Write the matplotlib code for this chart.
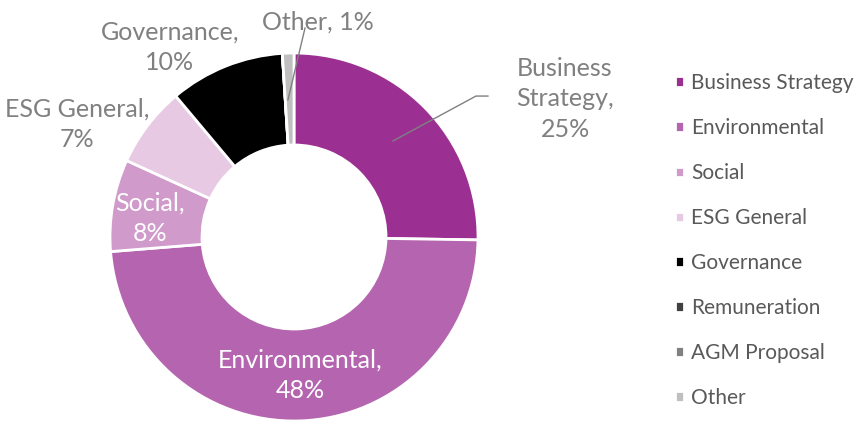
import numpy as np
import matplotlib
matplotlib.use('Agg')
from matplotlib import pyplot as plt

categories = ['Business Strategy', 'Environmental', 'Social', 'ESG General',
              'Governance', 'Remuneration', 'AGM Proposal', 'Other']
shares = [25, 48, 8, 7, 10, 0, 0, 1]
colors = ['#9B3092', '#B565AF', '#D09ACB', '#E7C9E3',
          '#000000', '#404040', '#808080', '#BFBFBF']

plt.rcParams['font.family'] = ['Lato', 'DejaVu Sans']

fig = plt.figure(figsize=(8.64, 4.25), dpi=100)
# square axes: centre at (294, 237) px, radius 184 px
ax = fig.add_axes([110/864, 4/425, 368/864, 368/425])
wedges, _ = ax.pie(shares, colors=colors, startangle=90, counterclock=False,
                   radius=1, wedgeprops=dict(width=0.5, edgecolor='white', linewidth=2))
ax.set_xlim(-1, 1)
ax.set_ylim(-1, 1)
ax.axis('off')

# data labels (Excel style)
lab_pos = {'Business Strategy': (1.473, 0.75), 'Environmental': (0.033, -0.75),
           'Social': (-0.783, 0.103), 'ESG General': (-1.179, 0.614),
           'Governance': (-0.674, 1.033), 'Other': (0.13, 1.168)}
inside = ['Environmental', 'Social']
for name, val in zip(categories, shares):
    if name not in lab_pos:
        continue
    pct = round(val / sum(shares) * 100)
    if name == 'Business Strategy':
        txt = 'Business\nStrategy,\n%d%%' % pct
    elif name == 'Other':
        txt = 'Other, %d%%' % pct
    else:
        txt = '%s,\n%d%%' % (name, pct)
    c = 'white' if name in inside else '#808080'
    ax.text(*lab_pos[name], txt, ha='center', va='center', color=c,
            fontsize=18, linespacing=1.4)

# leader lines
ax.plot([0.538, 0.989, 1.054], [0.522, 0.766, 0.766], color='#808080', lw=1, clip_on=False)
ax.plot([-0.033, 0.060], [0.745, 1.136], color='#808080', lw=1, clip_on=False)

fig.legend(wedges, categories, loc='upper left', bbox_to_anchor=(667/864, 1 - 65/425),
           frameon=False, handlelength=0.42, handleheight=0.42, handletextpad=0.35,
           labelspacing=1.2, fontsize=15, labelcolor='#595959', borderaxespad=0)

plt.savefig('out.png')
plt.close()
